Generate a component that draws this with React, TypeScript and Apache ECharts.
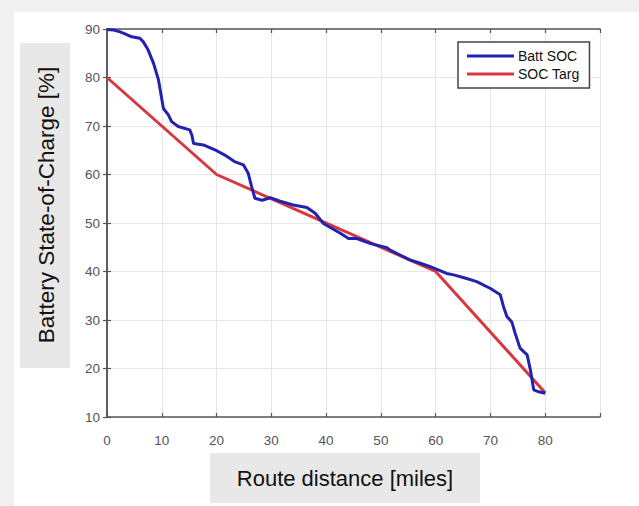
import React, { useEffect, useRef } from "react";
import * as echarts from "echarts";

const battDist = [0, 1.2, 2.4, 3.5, 4.5, 6.0, 6.6, 7.5, 8.5, 9.4, 10.3, 11.2, 11.8, 13.0, 15.1, 15.5, 15.8, 17.6, 19.7, 21.5, 23.4, 24.9, 25.8, 26.4, 27.0, 28.3, 29.8, 31.6, 34.0, 36.5, 38.0, 39.5, 42.6, 44.1, 45.6, 48.0, 51.1, 51.7, 53.5, 55.3, 57.2, 59.0, 60.8, 62.0, 63.3, 65.5, 67.5, 70.0, 71.8, 72.4, 73.0, 73.9, 74.5, 75.4, 76.7, 77.3, 77.9, 78.8, 80.0];
const battSoc = [89.9, 89.8, 89.4, 88.9, 88.4, 88.1, 87.4, 85.7, 82.9, 79.5, 73.6, 72.3, 70.9, 69.9, 69.2, 68.1, 66.4, 66.1, 65.1, 64.0, 62.6, 62.0, 60.2, 57.5, 55.1, 54.7, 55.2, 54.5, 53.7, 53.2, 52.0, 49.9, 47.9, 46.8, 46.8, 45.8, 44.9, 44.4, 43.4, 42.4, 41.7, 41.0, 40.2, 39.6, 39.3, 38.6, 37.9, 36.5, 35.2, 32.7, 30.7, 29.6, 27.3, 24.2, 22.8, 19.7, 15.6, 15.2, 14.9];
const targDist = [0, 20, 60, 80];
const targSoc = [80, 60, 40, 15];
const seriesNames = ["Batt SOC", "SOC Targ"];
const xTitle = "Route distance [miles]";
const yTitle = "Battery State-of-Charge [%]";

export default function App() {
  const ref = useRef<HTMLDivElement>(null);
  useEffect(() => {
    if (!ref.current) return;
    const chart = echarts.init(ref.current, null, { renderer: "svg" });
    const font = "Liberation Sans, Arial, sans-serif";
    const labelStyle = { color: "#555", fontSize: 13.5, fontFamily: font };
    const axisLine = { show: true, lineStyle: { color: "#555", width: 1.5 } };
    const tick = { show: true, inside: true, length: 4, lineStyle: { color: "#555", width: 1.2 } };
    chart.setOption({
      animation: false,
      backgroundColor: "#ffffff",
      grid: { left: 107, top: 29, right: 39, bottom: 89, containLabel: false, outerBoundsMode: "none" },
      xAxis: [
        {
          type: "value", min: 0, max: 90, interval: 10, position: "bottom",
          axisLine, axisTick: tick,
          axisLabel: { ...labelStyle, margin: 16, formatter: (v: number) => (v === 90 ? "" : String(v)) },
          splitLine: { show: true, lineStyle: { color: "#e6e6e6", width: 1 } },
        },
        {
          type: "value", min: 0, max: 90, interval: 10, position: "top",
          axisLine, axisTick: tick, axisLabel: { show: false }, splitLine: { show: false },
        },
      ],
      yAxis: [
        {
          type: "value", min: 10, max: 90, interval: 10, position: "left",
          axisLine, axisTick: tick,
          axisLabel: { ...labelStyle, margin: 7 },
          splitLine: { show: true, lineStyle: { color: "#e6e6e6", width: 1 } },
        },
        {
          type: "value", min: 10, max: 90, interval: 10, position: "right",
          axisLine, axisTick: tick, axisLabel: { show: false }, splitLine: { show: false },
        },
      ],
      legend: {
        orient: "vertical", left: 458, top: 42,
        padding: [7, 10, 7, 9], itemGap: 4, itemWidth: 47, itemHeight: 3,
        icon: "rect",
        borderColor: "#444", borderWidth: 1.5, backgroundColor: "#fff",
        textStyle: { color: "#111", fontSize: 14, fontFamily: font, padding: [0, 0, 0, -1] },
        data: seriesNames,
      },
      series: [
        {
          name: seriesNames[0], type: "line", symbol: "none", z: 3,
          data: battDist.map((d, i) => [d, battSoc[i]]),
          lineStyle: { color: "#2222b0", width: 3 }, itemStyle: { color: "#2222b0" },
        },
        {
          name: seriesNames[1], type: "line", symbol: "none", z: 2,
          data: targDist.map((d, i) => [d, targSoc[i]]),
          lineStyle: { color: "#d9363e", width: 3 }, itemStyle: { color: "#d9363e" },
        },
      ],
      graphic: [
        { type: "rect", z: -10, silent: true, shape: { x: 0, y: 0, width: 639, height: 12 }, style: { fill: "#f0f0f0" } },
        { type: "rect", z: -10, silent: true, shape: { x: 0, y: 0, width: 14, height: 506 }, style: { fill: "#f0f0f0" } },
        { type: "rect", z: -5, silent: true, shape: { x: 20, y: 43, width: 50, height: 325 }, style: { fill: "#e8e8e8" } },
        {
          type: "text", z: 5, x: 46, y: 205, rotation: Math.PI / 2,
          style: { text: yTitle, fill: "#111", fontSize: 22.5, fontFamily: font, align: "center", verticalAlign: "middle" },
        },
        { type: "rect", z: -5, silent: true, shape: { x: 210, y: 453, width: 270, height: 50 }, style: { fill: "#e8e8e8" } },
        {
          type: "text", z: 5, x: 345, y: 478,
          style: { text: xTitle, fill: "#111", fontSize: 22, fontFamily: font, align: "center", verticalAlign: "middle" },
        },
      ],
    });
    return () => chart.dispose();
  }, []);
  return <div ref={ref} style={{ position: "fixed", left: 0, top: 0, width: 639, height: 506 }} />;
}
